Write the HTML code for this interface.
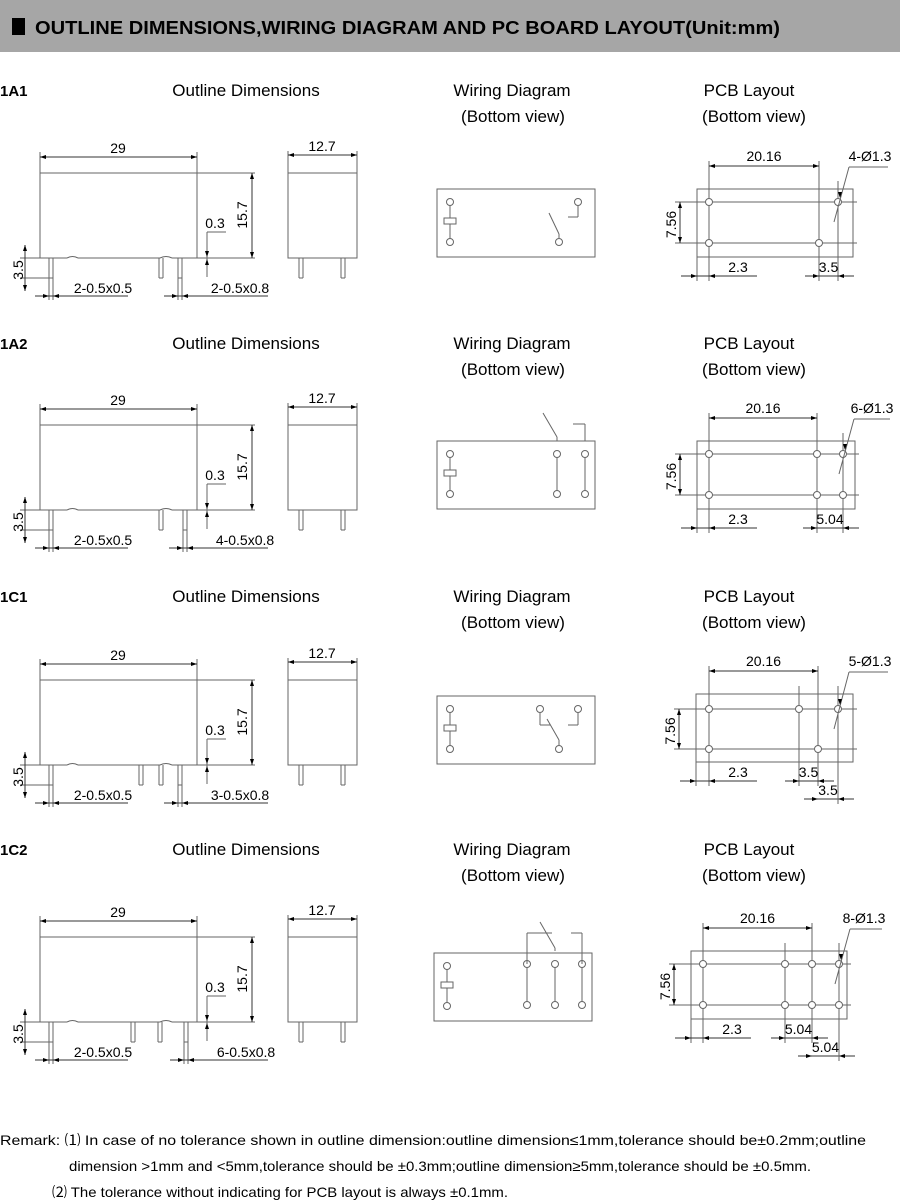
<!DOCTYPE html>
<html><head><meta charset="utf-8"><style>
html,body{margin:0;padding:0;background:#fff;width:900px;height:1201px;overflow:hidden}
svg{display:block}
</style></head><body>
<svg id="s" width="900" height="1201" xmlns="http://www.w3.org/2000/svg" font-family="Liberation Sans, sans-serif">
<rect x="0" y="0" width="900" height="52" fill="#a6a6a6"/>
<rect x="12" y="18" width="13" height="17" fill="#000"/>
<text x="35" y="34" font-size="18" font-weight="bold" textLength="745" lengthAdjust="spacingAndGlyphs">OUTLINE DIMENSIONS,WIRING DIAGRAM AND PC BOARD LAYOUT(Unit:mm)</text>
<g id="g"></g>
<text x="0" y="1145" font-size="14" textLength="866" lengthAdjust="spacingAndGlyphs">Remark: ⑴ In case of no tolerance shown in outline dimension:outline dimension≤1mm,tolerance should be±0.2mm;outline</text>
<text x="69" y="1171" font-size="14" textLength="742" lengthAdjust="spacingAndGlyphs">dimension &gt;1mm and &lt;5mm,tolerance should be ±0.3mm;outline dimension≥5mm,tolerance should be ±0.5mm.</text>
<text x="52" y="1197" font-size="14" textLength="456" lengthAdjust="spacingAndGlyphs">⑵ The tolerance without indicating for PCB layout is always ±0.1mm.</text>
</svg>
<script>
var o=[];var C='#666';
function L(a,b,c,d,w){o.push('<line x1="'+a+'" y1="'+b+'" x2="'+c+'" y2="'+d+'" stroke="'+(w||C)+'" stroke-width="1"/>');}
function R(x,y,w,h){o.push('<rect x="'+x+'" y="'+y+'" width="'+w+'" height="'+h+'" fill="none" stroke="'+C+'"/>');}
function Ci(x,y){o.push('<circle cx="'+x+'" cy="'+y+'" r="3.5" fill="#fff" stroke="'+C+'"/>');}
function T(x,y,s,fs,anchor,rot,len){o.push('<text x="'+x+'" y="'+y+'" font-size="'+(fs||14)+'" text-anchor="'+(anchor||'middle')+'"'+(rot?' transform="rotate(-90 '+x+' '+y+')"':'')+(len?' textLength="'+len+'" lengthAdjust="spacingAndGlyphs"':'')+'>'+s+'</text>');}
function A(x,y,dir){var s=6,h=2;var p;
 if(dir=='r')p=[x,y,x-s,y-h,x-s,y+h];if(dir=='l')p=[x,y,x+s,y-h,x+s,y+h];
 if(dir=='d')p=[x,y,x-h,y-s,x+h,y-s];if(dir=='u')p=[x,y,x-h,y+s,x+h,y+s];
 o.push('<polygon points="'+p.join(',')+'" fill="#000"/>');}
function HD(x1,x2,y){L(x1,y,x2,y,'#333');A(x1,y,'l');A(x2,y,'r');}
function VD(x,y1,y2){L(x,y1,x,y2,'#333');A(x,y1,'u');A(x,y2,'d');}
var secs=[
 {t:0,d:0,pins:[51,161,180],lab:'2-0.5x0.8',wd:'A1',pc:{x0:697,x1:853,top:[709,838],bot:[709,819],dimR:819,lab:'4-Ø1.3',b:[['3.5',819,838,0]]}},
 {t:253,d:252,pins:[51,161,185],lab:'4-0.5x0.8',wd:'A2',pc:{x0:697,x1:855,top:[709,817,843],bot:[709,817,843],dimR:817,lab:'6-Ø1.3',b:[['5.04',817,843,0]]}},
 {t:506,d:507,pins:[51,141,161,180],lab:'3-0.5x0.8',wd:'C1',pc:{x0:696,x1:853,top:[709,799,838],bot:[709,818],dimR:818,lab:'5-Ø1.3',b:[['3.5',799,818,0],['3.5',818,838,18]]}},
 {t:759,d:764,pins:[51,133,160,186],lab:'6-0.5x0.8',wd:'C2',pc:{x0:691,x1:847,top:[703,785,812,839],bot:[703,785,812,839],dimR:812,lab:'8-Ø1.3',b:[['5.04',785,812,0],['5.04',812,839,18]]},pcdx:-6,wdx:-3}
];
secs.forEach(function(S){
 var t=S.t,d=S.d;
 o.push('<text x="0" y="'+(96+t)+'" font-size="15" font-weight="bold">'+['1A1','1A2','1C1','1C2'][secs.indexOf(S)]+'</text>');
 T(246,96+t,'Outline Dimensions',17);
 T(512,96+t,'Wiring Diagram',17);T(513,122+t,'(Bottom view)',17);
 T(749,96+t,'PCB Layout',17);T(754,122+t,'(Bottom view)',17);
 var y0=173+d,y1=258+d;
 R(40,y0,157,y1-y0);
 o.push('<rect x="67" y="'+(y1-1)+'" width="11" height="2" fill="#fff"/>');
 o.push('<path d="M67 '+y1+' Q72.5 '+(y1-3)+' 78 '+y1+'" fill="none" stroke="'+C+'"/>');
 o.push('<rect x="160" y="'+(y1-1)+'" width="12" height="2" fill="#fff"/>');
 o.push('<path d="M160 '+y1+' Q166 '+(y1-3)+' 172 '+y1+'" fill="none" stroke="'+C+'"/>');
 L(40,y0-21,40,y0);L(197,y0-21,197,y0);HD(40,197,y0-16);T(118,y0-20,'29');
 L(197,y0,255,y0);L(197,y1,255,y1);VD(252,y0,y1);T(247,y0+42,'15.7',14,'middle',1);
 L(207,y0+59,207,y1+19);L(207,y0+59,226,y0+59);A(207,y1-1,'d');A(207,y1+1,'u');T(215,y0+55,'0.3');
 S.pins.forEach(function(px){L(px-2,y1,px-2,y1+20);L(px+2,y1,px+2,y1+20);L(px-2,y1+20,px+2,y1+20);});
 var p0=S.pins[0],pl=S.pins[S.pins.length-1];
 L(20,y1,p0-2,y1);L(20,y1+20,p0-2,y1+20);VD(25,y1-13,y1+33);
 T(23,y1+12,'3.5',14,'middle',1);
 L(p0-2,y1+20,p0-2,y1+42);L(p0+2,y1+20,p0+2,y1+42);
 L(35,y1+38,128,y1+38,'#333');A(p0-2,y1+38,'r');A(p0+2,y1+38,'l');T(103,y1+35,'2-0.5x0.5');
 L(pl-2,y1+20,pl-2,y1+42);L(pl+2,y1+20,pl+2,y1+42);
 L(pl-16,y1+38,268,y1+38,'#333');A(pl-2,y1+38,'r');A(pl+2,y1+38,'l');T(pl+60,y1+35,S.lab);
 R(288,y0,69,y1-y0);L(288,y0-22,288,y0);L(357,y0-22,357,y0);HD(288,357,y0-18);T(322,y0-22,'12.7');
 [301,343].forEach(function(px){L(px-2,y1,px-2,y1+20);L(px+2,y1,px+2,y1+20);L(px-2,y1+20,px+2,y1+20);});
 var wx=S.wdx||0,wy=189+d;
 var WX=437+wx;R(WX,wy,158,68);
 var cx=WX+13,ct=wy+13,cb=wy+53;
 L(cx,ct,cx,cb);Ci(cx,ct);Ci(cx,cb);o.push('<rect x="'+(cx-6)+'" y="'+(wy+29)+'" width="12" height="6" fill="#fff" stroke="'+C+'"/>');
 if(S.wd=='A1'){Ci(559+wx,cb);L(559+wx,cb-4,559+wx,cb-8);L(559+wx,cb-8,549+wx,wy+24);L(578,ct+4,578,wy+28);L(578,wy+28,568,wy+28);Ci(578,ct);}
 if(S.wd=='A2'){[557,585].forEach(function(x){L(x,ct,x,cb);Ci(x,ct);Ci(x,cb);});L(557,wy,557,wy-4);L(557,wy-4,543,wy-28);L(585,wy,585,wy-17);L(585,wy-17,573,wy-17);}
 if(S.wd=='C1'){Ci(540,ct);Ci(578,ct);Ci(559,cb);L(540,ct+4,540,wy+29);L(540,wy+29,550,wy+29);L(559,cb-4,559,cb-9);L(559,cb-9,547,wy+23);L(578,ct+4,578,wy+29);L(578,wy+29,568,wy+29);}
 if(S.wd=='C2'){var cc=[527,555,582];cc.forEach(function(x){L(x,964,x,1005);Ci(x,964);Ci(x,1005);});L(527,964,527,933);L(527,933,552,933);L(555,951,555,948);L(555,948,540,922);L(582,964,582,933);L(582,933,571,933);}
 var P=S.pc,py=189+d,ph=68,ht=py+13,hb=py+54;
 if(S.wd=='C2'){py=951;ht=964;hb=1005;}
 if(S.wd=='C1'){py=694;ht=709;hb=749;}
 R(P.x0,py,P.x1-P.x0,ph);
 L(P.x0-4,ht,P.x1+4,ht);L(P.x0-4,hb,P.x1+4,hb);
 var xs={};P.top.concat(P.bot).forEach(function(x){xs[x]=1;});
 var right=P.top[P.top.length-1];
 Object.keys(xs).forEach(function(x){x=+x;var top=(x==P.top[0]||x==P.dimR)?py-28:py-8;L(x,top,x,py+ph+24);});
 P.top.forEach(function(x){Ci(x,ht);});P.bot.forEach(function(x){Ci(x,hb);});
 var x0h=P.top[0];
 HD(x0h,P.dimR,py-23);T((x0h+P.dimR)/2,py-28,'20.16');
 T(P.x1+17,py-28,P.lab);L(right+11,py-22,P.x1+35,py-22);L(right+11,py-22,right-4,ht+20);A(right+2,ht-4,'d');
 L(P.x0-22,ht,P.x0,ht);L(P.x0-22,hb,P.x0,hb);VD(P.x0-17,ht,hb);T(P.x0-21,(ht+hb)/2+2,'7.56',14,'middle',1);
 L(P.x0,py+ph,P.x0,py+ph+24);
 var by=py+ph+19;L(P.x0-16,by,x0h+48,by,'#333');A(P.x0,by,'r');A(x0h,by,'l');T(x0h+29,by-4,'2.3');
 P.b.forEach(function(b){var yy=by+b[3];L(b[1]-14,yy,b[2]+16,yy,'#333');A(b[1],yy,'r');A(b[2],yy,'l');T((b[1]+b[2])/2,yy-4,b[0]);if(b[3])L(b[2],py+ph,b[2],yy+5);});
});
document.getElementById('g').innerHTML=o.join('');
</script>
</body></html>
